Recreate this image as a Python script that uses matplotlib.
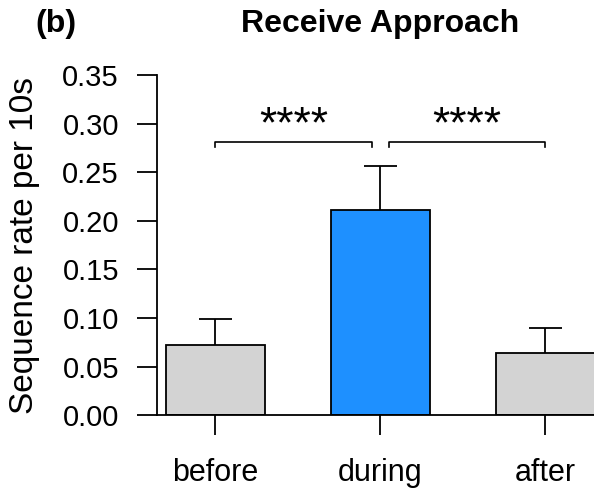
import matplotlib
matplotlib.use('Agg')
import matplotlib.pyplot as plt
import numpy as np

plt.rcParams['font.family'] = ['Liberation Sans', 'DejaVu Sans']

# Data
conditions = ['before', 'during', 'after']
rates = [0.072, 0.211, 0.064]
errors = [0.027, 0.045, 0.0255]
bar_colors = ['#d3d3d3', '#1e90ff', '#d3d3d3']
y_ticks = [0.00, 0.05, 0.10, 0.15, 0.20, 0.25, 0.30, 0.35]

# significance brackets: (left, right, height, label)
brackets = [(0.0, 0.95, 0.281, '****'), (1.05, 2.0, 0.281, '****')]

x = np.arange(len(conditions))

fig = plt.figure(figsize=(5.94, 4.93), dpi=100)
ax = fig.add_axes([157 / 594, 1 - 415.3 / 493, 1 - 157 / 594, (415.3 - 75) / 493])

ax.bar(x, rates, width=0.6, color=bar_colors, edgecolor='black', linewidth=1.3, zorder=2)

# one-sided error bars
tops = np.array(rates) + np.array(errors)
ax.vlines(x, rates, tops, color='black', linewidth=1.3, zorder=3)
ax.hlines(tops, x - 0.1, x + 0.1, color='black', linewidth=1.3, zorder=3)

# brackets and stars
for left, right, h, lab in brackets:
    ax.plot([left, left, right, right], [h - 0.005, h, h, h - 0.005], color='black', linewidth=1.2)
    ax.text((left + right) / 2, h - 0.004, lab, ha='center', va='bottom', fontsize=32)

ax.set_xlim(-0.3545, 2.294)
ax.set_ylim(0, 0.35)
ax.set_yticks(y_ticks)
ax.set_yticklabels(['%.2f' % v for v in y_ticks])
ax.set_xticks(x)
ax.set_xticklabels(conditions)

for side in ['top', 'right']:
    ax.spines[side].set_visible(False)
ax.spines['left'].set_linewidth(1.3)
ax.spines['bottom'].set_linewidth(1.3)
ax.tick_params(axis='y', length=14.4, width=1.3, labelsize=21, pad=13)
ax.tick_params(axis='x', length=14.4, width=1.3, labelsize=22, pad=16)

ax.set_ylabel('Sequence rate per 10s', fontsize=24, labelpad=16)

fig.text(380 / 594, 1 - 24 / 493, 'Receive Approach', ha='center', va='center',
         fontsize=23, fontweight='bold')
fig.text(35 / 594, 1 - 24 / 493, '(b)', ha='left', va='center', fontsize=23, fontweight='bold')

fig.savefig('out.png', dpi=100)
